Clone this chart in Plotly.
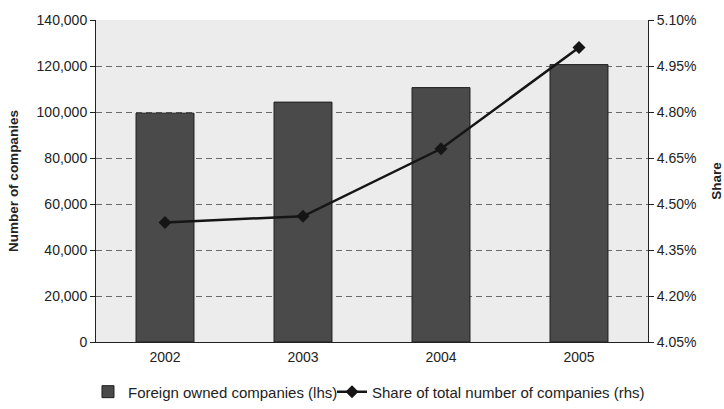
import plotly.graph_objects as go

# Data
years = ["2002", "2003", "2004", "2005"]
foreign_owned = [99500, 104300, 110600, 120600]
share_pct = [4.44, 4.46, 4.68, 5.01]

left_ticks = [0, 20000, 40000, 60000, 80000, 100000, 120000, 140000]
right_ticks = [4.05, 4.20, 4.35, 4.50, 4.65, 4.80, 4.95, 5.10]
right_labels = [f"{v:.2f}%" for v in right_ticks]

FONT = "Liberation Sans, Arial, sans-serif"
LEGEND_FONT = dict(size=15, color="#222222")

fig = go.Figure()

fig.add_trace(go.Bar(
    x=years,
    y=foreign_owned,
    name="Foreign owned companies (lhs)",
    marker=dict(color="#4a4a4a", line=dict(color="#1e1e1e", width=1)),
    width=0.42,
    yaxis="y",
    legend="legend",
))

fig.add_trace(go.Scatter(
    x=years,
    y=share_pct,
    name="Share of total number of companies (rhs)",
    mode="lines+markers",
    line=dict(color="#151515", width=2.5),
    marker=dict(symbol="diamond", size=10, color="#151515"),
    yaxis="y2",
    legend="legend2",
))

fig.update_layout(
    width=724,
    height=409,
    margin=dict(l=96, r=76, t=20, b=67, autoexpand=False),
    paper_bgcolor="white",
    plot_bgcolor="#ececec",
    font=dict(family=FONT, size=14, color="#222222"),
    showlegend=True,
    legend=dict(
        orientation="h",
        x=-0.0145,
        xanchor="left",
        y=-0.155,
        yanchor="middle",
        font=LEGEND_FONT,
        bgcolor="rgba(0,0,0,0)",
        itemwidth=30,
    ),
    legend2=dict(
        orientation="h",
        x=0.4275,
        xanchor="left",
        y=-0.155,
        yanchor="middle",
        font=LEGEND_FONT,
        bgcolor="rgba(0,0,0,0)",
        itemwidth=30,
    ),
    xaxis=dict(
        type="category",
        showline=True,
        linecolor="#222222",
        linewidth=1,
        showgrid=False,
        ticks="",
        ticklabelstandoff=2,
        tickfont=dict(size=14),
    ),
    yaxis=dict(
        title=dict(text="<b>Number of companies</b>", font=dict(size=13.5), standoff=14),
        range=[0, 140000],
        tickvals=left_ticks,
        tickformat=",",
        showline=True,
        linecolor="#222222",
        linewidth=1,
        ticks="outside",
        ticklen=5,
        tickcolor="#222222",
        showgrid=True,
        gridcolor="#6a6a6a",
        gridwidth=1,
        griddash="6px,4px",
        zeroline=False,
    ),
    yaxis2=dict(
        title=dict(text="<b>Share</b>", font=dict(size=13.5), standoff=22),
        overlaying="y",
        side="right",
        range=[4.05, 5.10],
        tickvals=right_ticks,
        ticktext=right_labels,
        showline=True,
        linecolor="#222222",
        linewidth=1,
        ticks="outside",
        ticklen=5,
        tickcolor="#222222",
        showgrid=False,
        zeroline=False,
    ),
    bargap=0.58,
)

fig.write_html("out.html")
